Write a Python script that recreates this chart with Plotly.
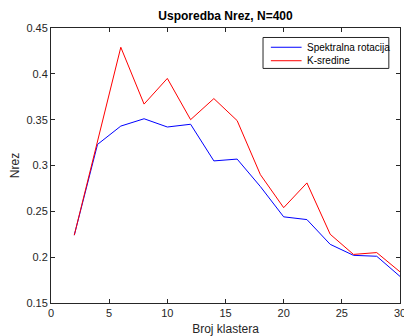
import plotly.graph_objects as go

k = [2, 4, 6, 8, 10, 12, 14, 16, 18, 20, 22, 24, 26, 28, 30]
spektralna = [0.224, 0.323, 0.343, 0.351, 0.342, 0.345, 0.305, 0.307, 0.277, 0.244, 0.241, 0.214, 0.202, 0.201, 0.179]
ksredine = [0.224, 0.326, 0.429, 0.367, 0.395, 0.350, 0.373, 0.349, 0.290, 0.254, 0.281, 0.225, 0.203, 0.205, 0.184]
series_names = ["Spektralna rotacija", "K-sredine"]
series_colors = ["#0000ff", "#ff0000"]

FONT = "Liberation Sans, Arial"

fig = go.Figure()
for name, vals, col in zip(series_names, [spektralna, ksredine], series_colors):
    fig.add_trace(go.Scatter(x=k, y=vals, mode="lines", name=name,
                             line=dict(color=col, width=1), showlegend=False))

axis_common = dict(showgrid=False, zeroline=False, showline=True, linecolor="#262626",
                   linewidth=1, mirror="ticks", ticks="inside", ticklen=4, tickcolor="#262626",
                   automargin=False,
                   tickfont=dict(family=FONT, size=11, color="#262626"))

# MATLAB-style compact legend box (paper coordinates)
lx0, lx1, ly0, ly1 = 0.6075, 0.968, 0.853, 0.9655
shapes = [dict(type="rect", xref="paper", yref="paper", x0=lx0, x1=lx1, y0=ly0, y1=ly1,
               line=dict(color="#262626", width=1), fillcolor="#ffffff", layer="above")]
annotations = []
row_y = [0.930, 0.881]
for name, col, yy in zip(series_names, series_colors, row_y):
    shapes.append(dict(type="line", xref="paper", yref="paper", x0=0.630, x1=0.718, y0=yy, y1=yy,
                       line=dict(color=col, width=1), layer="above"))
    annotations.append(dict(text=name, xref="paper", yref="paper", x=0.728, y=yy,
                            xanchor="left", yanchor="middle", showarrow=False,
                            font=dict(family=FONT, size=10, color="#000000")))

fig.update_layout(
    width=404, height=336,
    margin=dict(l=51, r=4, t=28, b=33),
    paper_bgcolor="#ffffff", plot_bgcolor="#ffffff",
    title=dict(text="<b>Usporedba Nrez, N=400</b>", xref="paper", x=0.5, xanchor="center",
               y=0.952, yanchor="middle",
               font=dict(family=FONT, size=12, color="#000000")),
    xaxis=dict(range=[0, 30], tickvals=[0, 5, 10, 15, 20, 25, 30], ticklabeloverflow="allow",
               title=dict(text="Broj klastera", standoff=8,
                          font=dict(family=FONT, size=12, color="#262626")),
               **axis_common),
    yaxis=dict(range=[0.15, 0.45], tickvals=[0.15, 0.2, 0.25, 0.3, 0.35, 0.4, 0.45],
               ticktext=["0.15", "0.2", "0.25", "0.3", "0.35", "0.4", "0.45"],
               title=dict(text="Nrez", standoff=4,
                          font=dict(family=FONT, size=12, color="#262626")),
               **axis_common),
    shapes=shapes,
    annotations=annotations,
    showlegend=False,
)

fig.write_html("out.html")
